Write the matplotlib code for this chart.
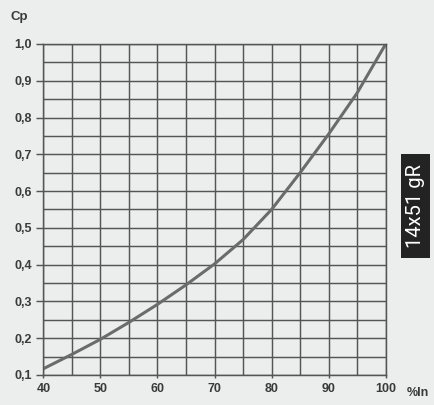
import matplotlib
matplotlib.use("Agg")
import matplotlib.pyplot as plt
from matplotlib.patches import Rectangle
from matplotlib.ticker import MultipleLocator, FixedLocator

# Data
load_pct = [40, 45, 50, 55, 60, 65, 70, 75, 80, 85, 90, 95, 100]
cp_values = [0.117, 0.156, 0.197, 0.243, 0.292, 0.345, 0.402, 0.468, 0.55, 0.65, 0.755, 0.867, 1.0]
x_ticks = [40, 50, 60, 70, 80, 90, 100]
y_ticks = [0.1, 0.2, 0.3, 0.4, 0.5, 0.6, 0.7, 0.8, 0.9, 1.0]
y_labels = ["0,1", "0,2", "0,3", "0,4", "0,5", "0,6", "0,7", "0,8", "0,9", "1,0"]
badge_text = "14x51 gR"

bg = "#eceeed"
txt_c = "#3a3a3a"
fam = ["Liberation Sans", "DejaVu Sans"]
fig = plt.figure(figsize=(4.35, 4.05), dpi=100, facecolor=bg)
ax = fig.add_axes([0.0996, 0.0741, 0.7871, 0.8173], facecolor=bg)

ax.set_xlim(40, 100)
ax.set_ylim(0.1, 1.0)
ax.xaxis.set_major_locator(FixedLocator(x_ticks))
ax.xaxis.set_minor_locator(MultipleLocator(5))
ax.yaxis.set_major_locator(FixedLocator(y_ticks))
ax.yaxis.set_minor_locator(MultipleLocator(0.05))
ax.set_yticklabels(y_labels)
ax.set_xticklabels([str(v) for v in x_ticks])

grid_c = "#555555"
ax.grid(which="both", color=grid_c, linewidth=1.05)
ax.set_axisbelow(True)
for s in ax.spines.values():
    s.set_color(grid_c)
    s.set_linewidth(1.05)

ax.tick_params(axis="y", which="major", length=5, width=1.05, color=grid_c, pad=3,
               labelsize=9, labelcolor=txt_c)
ax.tick_params(axis="y", which="minor", length=0)
ax.tick_params(axis="x", which="major", length=2, width=1.05, color=grid_c, pad=4,
               labelsize=9, labelcolor=txt_c)
ax.tick_params(axis="x", which="minor", length=0)
for lab in ax.get_xticklabels() + ax.get_yticklabels():
    lab.set_fontweight("bold")
    lab.set_family(fam)

ax.plot(load_pct, cp_values, color="#6b6b6b", linewidth=2.2, solid_capstyle="round")

fig.text(11 / 435, 1 - 17 / 405, "Cp", fontsize=9.5, fontweight="bold", color=txt_c,
         family=fam, ha="left", va="center")
fig.text(407 / 435, 1 - 393 / 405, "%In", fontsize=9, fontweight="bold", color=txt_c,
         family=fam, ha="left", va="center")

fig.patches.append(Rectangle((401 / 435, 1 - 258 / 405), 29 / 435, 104 / 405,
                             transform=fig.transFigure, facecolor="#232323",
                             edgecolor="none"))
fig.text(416 / 435, 1 - 206 / 405, badge_text, rotation=90, color="white", fontsize=14.5,
         fontweight="normal", family=["Roboto", "DejaVu Sans"], ha="center", va="center")

fig.savefig("out.png", dpi=100, facecolor=bg)
